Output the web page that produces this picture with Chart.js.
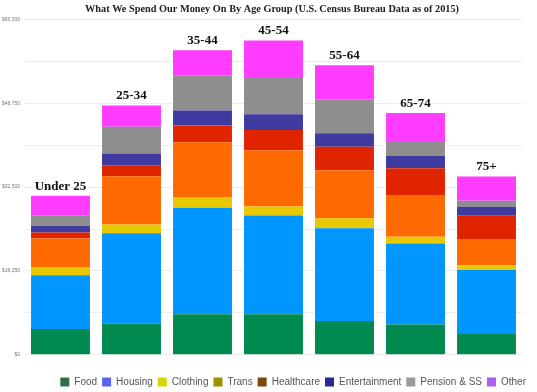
<!DOCTYPE html>
<html lang="en">
<head>
  <meta charset="UTF-8">
  <title>What We Spend Our Money On By Age Group</title>
  <script src="https://cdn.jsdelivr.net/npm/chart.js"></script>
  <style>
    body { margin: 0; background: #fff; }
    #wrap { width: 537px; height: 392px; }
  </style>
</head>
<body>
  <div id="wrap"><canvas id="spendChart"></canvas></div>

  <script>
    const ageGroups = ['Under 25', '25-34', '35-44', '45-54', '55-64', '65-74', '75+'];

    const food          = [5000, 6080, 7840, 7840, 6530, 5880, 4050];
    const housing       = [10400, 17460, 20660, 19160, 17990, 15690, 12400];
    const clothing      = [1500, 1700, 2070, 1750, 1950, 1300, 910];
    const trans         = [5640, 9360, 10600, 10910, 9300, 8110, 5060];
    const healthcare    = [1170, 2140, 3240, 3900, 4540, 5180, 4530];
    const entertainment = [1280, 2280, 2920, 3060, 2610, 2340, 1750];
    const pension       = [1950, 5180, 6820, 7210, 6490, 2920, 1170];
    const other         = [3890, 4090, 4870, 7070, 6690, 5450, 4670];

    const yTicks = [0, 16250, 32500, 48750, 65000];

    // bar fills and the (different) swatches shown in the legend
    const barColors = ['#008a50', '#0096ff', '#e8c800', '#ff6a00', '#e02400', '#3f3aa0', '#8e8e8e', '#ff3cff'];
    const legendColors = ['#2f6e4c', '#5a62f0', '#d6d600', '#a09000', '#7e4a0c', '#2a2890', '#999999', '#b060f0'];

    const series = [
      ['Food', food], ['Housing', housing], ['Clothing', clothing], ['Trans', trans],
      ['Healthcare', healthcare], ['Entertainment', entertainment],
      ['Pension & SS', pension], ['Other', other]
    ];

    const groupLabels = {
      id: 'groupLabels',
      afterLayout(chart) {
        // title and legend sit a little right of the canvas centre in the original
        chart.titleBlock.left += 11;
        chart.titleBlock.right += 11;
        chart.legend.left += 9;
        chart.legend.right += 9;
      },
      afterDatasetsDraw(chart) {
        const ctx = chart.ctx;
        const top = chart.getDatasetMeta(chart.data.datasets.length - 1).data;
        ctx.save();
        ctx.font = 'bold 13px "Liberation Serif", serif';
        ctx.fillStyle = '#111';
        ctx.textAlign = 'center';
        ctx.textBaseline = 'bottom';
        top.forEach((bar, i) => {
          ctx.fillText(ageGroups[i], bar.x, bar.y - 3);
        });
        ctx.restore();
      }
    };

    const ctx = document.getElementById('spendChart').getContext('2d');
    new Chart(ctx, {
      type: 'bar',
      data: {
        labels: ageGroups,
        datasets: series.map((s, i) => ({
          label: s[0],
          data: s[1],
          backgroundColor: barColors[i],
          borderWidth: 0,
          categoryPercentage: 0.83,
          barPercentage: 1
        }))
      },
      options: {
        responsive: true,
        maintainAspectRatio: false,
        animation: false,
        layout: { padding: { left: 0, right: 15, top: 0, bottom: -5 } },
        scales: {
          x: {
            stacked: true,
            grid: { display: false },
            border: { display: false },
            ticks: { display: false }
          },
          y: {
            stacked: true,
            min: 0,
            max: 65000,
            border: { display: false },
            grid: { color: '#ececec', drawTicks: false },
            afterBuildTicks: axis => {
              axis.ticks = [];
              for (let v = 0; v <= 65000; v += 8125) axis.ticks.push({ value: v });
            },
            afterFit: axis => { axis.width = 25; },
            ticks: {
              padding: 5,
              color: '#777',
              font: { family: 'Liberation Sans', size: 5 },
              callback: v => yTicks.includes(v) ? '$' + v.toLocaleString('en-US') : ''
            }
          }
        },
        plugins: {
          title: {
            display: true,
            text: 'What We Spend Our Money On By Age Group (U.S. Census Bureau Data as of 2015)',
            color: '#222',
            font: { family: 'Liberation Serif', size: 10.3, weight: 'bold' },
            padding: { top: 3, bottom: 4 }
          },
          legend: {
            position: 'bottom',
            align: 'end',
            title: { display: true, text: '', font: { size: 1 }, padding: { top: 0, bottom: 8 } },
            labels: {
              boxWidth: 9,
              boxHeight: 9,
              padding: 5,
              color: '#555',
              font: { family: 'Liberation Sans', size: 10 },
              generateLabels: chart => chart.data.datasets.map((d, i) => ({
                text: d.label,
                fillStyle: legendColors[i],
                strokeStyle: legendColors[i],
                lineWidth: 0,
                fontColor: '#555',
                datasetIndex: i,
                hidden: false
              }))
            }
          },
          tooltip: { mode: 'index', intersect: false }
        }
      },
      plugins: [groupLabels]
    });
  </script>
</body>
</html>
